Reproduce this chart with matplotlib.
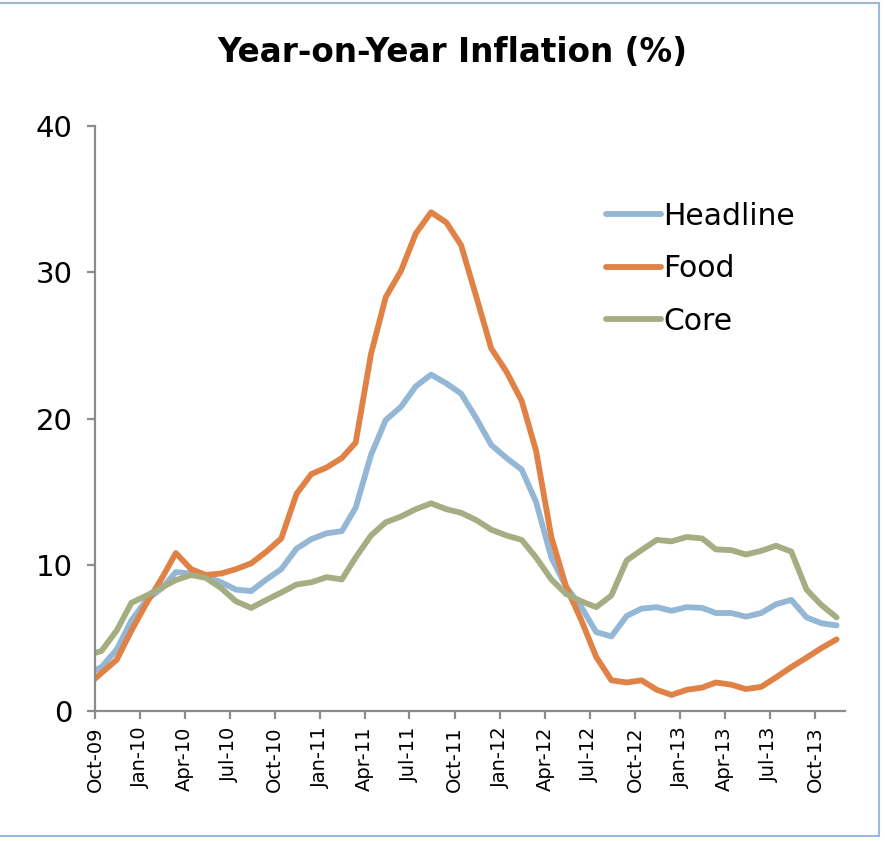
import matplotlib
matplotlib.use("Agg")
import matplotlib.pyplot as plt
import matplotlib.dates as mdates
import pandas as pd
from matplotlib.patches import Rectangle

# monthly readings, Sep-09 .. Nov-13 (Sep-09 sits left of the axis and is clipped)
MONTHS = pd.date_range("2009-09-01", "2013-11-01", freq="MS") + pd.Timedelta(days=13)

HEADLINE = [2.5, 3.0, 4.2, 6.2, 7.6, 8.4, 9.5, 9.4, 9.2, 8.8, 8.3, 8.2, 9.0,
            9.7, 11.1, 11.75, 12.15, 12.3, 13.9, 17.5, 19.9, 20.8, 22.2, 23.0,
            22.4, 21.7, 20.0, 18.2, 17.3, 16.5, 14.3, 10.5, 8.5, 7.1, 5.4, 5.1,
            6.5, 7.0, 7.1, 6.85, 7.1, 7.05, 6.7, 6.7, 6.45, 6.7, 7.3, 7.6, 6.4,
            6.0, 5.85]
FOOD = [1.7, 2.6, 3.5, 5.5, 7.4, 9.1, 10.8, 9.7, 9.3, 9.4, 9.7, 10.1, 10.9,
        11.8, 14.85, 16.2, 16.65, 17.3, 18.35, 24.4, 28.3, 30.1, 32.65, 34.1,
        33.4, 31.85, 28.3, 24.8, 23.2, 21.2, 17.8, 11.9, 8.5, 6.2, 3.7, 2.1,
        1.95, 2.1, 1.45, 1.1, 1.45, 1.6, 1.95, 1.8, 1.5, 1.65, 2.3, 3.0, 3.65,
        4.3, 4.9]
CORE = [3.8, 4.1, 5.5, 7.4, 7.9, 8.45, 8.95, 9.3, 9.1, 8.4, 7.5, 7.05, 7.6,
        8.1, 8.65, 8.8, 9.15, 9.0, 10.5, 12.0, 12.9, 13.3, 13.8, 14.2, 13.8,
        13.55, 13.05, 12.4, 12.0, 11.7, 10.5, 9.0, 8.0, 7.5, 7.1, 7.9, 10.3,
        11.0, 11.7, 11.6, 11.9, 11.8, 11.05, 11.0, 10.7, 10.95, 11.3, 10.9,
        8.3, 7.25, 6.4]

SERIES = ["Headline", "Food", "Core"]
COLORS = ["#94B7D6", "#E08246", "#A4AE82"]
Y_TICKS = [0, 10, 20, 30, 40]

plt.rcParams["font.family"] = ["DejaVu Sans"]

fig = plt.figure(figsize=(8.85, 8.41), dpi=100)
ax = fig.add_axes([95 / 885, 130 / 841, 750 / 885, 585 / 841])

for name, vals, col in zip(SERIES, [HEADLINE, FOOD, CORE], COLORS):
    ax.plot(MONTHS, vals, color=col, linewidth=4.2, label=name,
            solid_capstyle="round", solid_joinstyle="round")

ax.set_ylim(0, 40)
ax.set_yticks(Y_TICKS)
ax.set_xlim(pd.Timestamp("2009-10-01"), pd.Timestamp("2013-12-01"))
ax.set_xticks(pd.date_range("2009-10-01", "2013-10-01", freq="3MS"))
ax.xaxis.set_major_formatter(mdates.DateFormatter("%b-%y"))
plt.setp(ax.get_xticklabels(), rotation=90)

for side in ["top", "right"]:
    ax.spines[side].set_visible(False)
for side in ["left", "bottom"]:
    ax.spines[side].set_color("#8C8C8C")
    ax.spines[side].set_linewidth(1.6)
ax.tick_params(axis="both", colors="#8C8C8C", length=6, width=1.6)
ax.tick_params(axis="y", labelsize=21, labelcolor="black", pad=10)
ax.tick_params(axis="x", labelsize=14, labelcolor="black", pad=5)

fig.text(452 / 885, 1 - 52 / 841, "Year-on-Year Inflation (%)",
         ha="center", va="center", fontsize=23.5, fontweight="bold")

ax.legend(loc="upper left", bbox_to_anchor=(591 / 885, 1 - 187 / 841),
          bbox_transform=fig.transFigure, frameon=False, fontsize=21.5,
          handlelength=1.85, handletextpad=0.08, labelspacing=0.78, borderpad=0)

# light blue frame around the slide picture
fig.patches.append(Rectangle((-0.01, 5 / 841), 879 / 885 + 0.01, 833 / 841,
                             transform=fig.transFigure, fill=False,
                             edgecolor="#9DB9D9", linewidth=1.5))

plt.savefig("out.png", dpi=100)
plt.close()
